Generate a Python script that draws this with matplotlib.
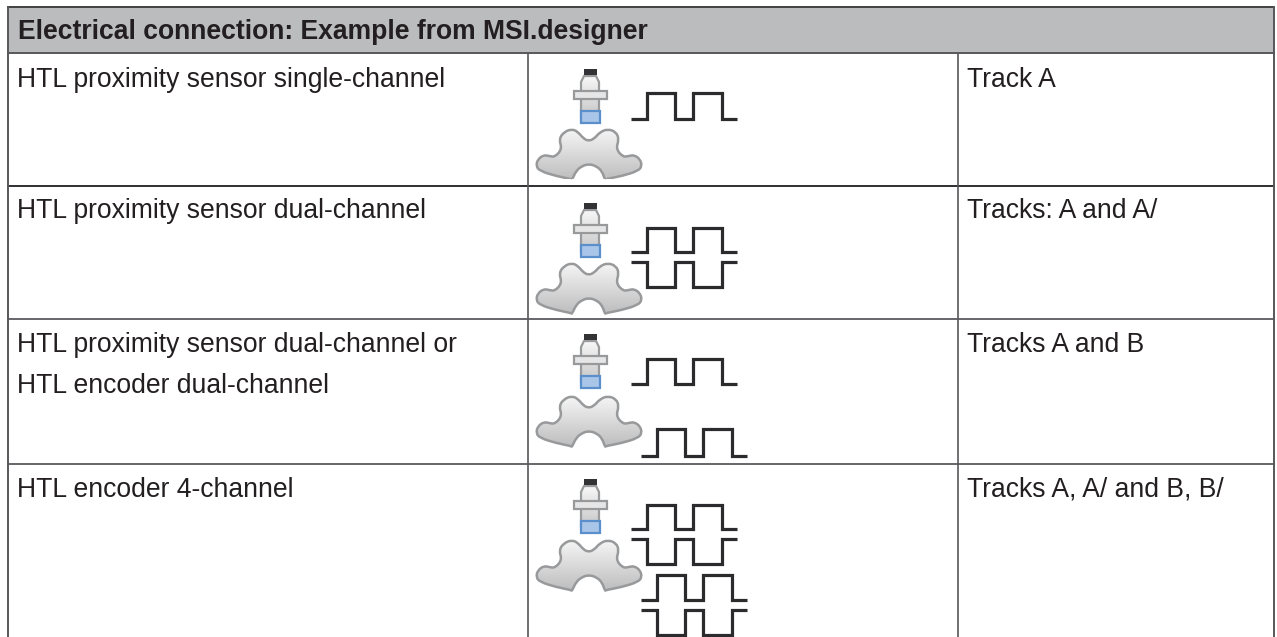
import numpy as np
import matplotlib
matplotlib.use('Agg')
import matplotlib.pyplot as plt
from matplotlib.path import Path
from matplotlib.patches import PathPatch, Rectangle

W, H = 1277, 637
TEXT = '#231f20'
LINE = '#58585a'

title = 'Electrical connection: Example from MSI.designer'
left_col = [['HTL proximity sensor single-channel'],
            ['HTL proximity sensor dual-channel'],
            ['HTL proximity sensor dual-channel or', 'HTL encoder dual-channel'],
            ['HTL encoder 4-channel']]
right_col = ['Track A', 'Tracks: A and A/', 'Tracks A and B', 'Tracks A, A/ and B, B/']
row_lines = [53, 186, 319, 464]
row_colors = ['#58585a', '#2f2f31', '#66666a', '#66666a']
baselines = [87, 218, 352, 497]
icon_tops = [69, 203, 334, 479]
gear_offsets = [60, 60, 62, 61]
# (x start, y low, y high) for each pulse train, y high < y low in pixels
waves = [[(631, 119, 93)],
         [(631, 252, 228), (631, 262, 287)],
         [(631, 384, 359), (641, 456, 429)],
         [(631, 529, 505), (631, 539, 564), (641, 600, 575), (641, 610, 635)]]


def gear_path(x0, y0):
    # outline: lobes on top, arch cut out of the bottom
    pts = [(36, 51), (35, 50), (20, 47), (4, 42), (0, 37), (2, 30), (8, 26), (13, 27), (19, 28),
           (26, 20), (23, 10), (28, 3), (36, 0), (42, 3), (47, 9), (52, 12), (58, 10), (64, 3),
           (72, 0), (80, 3), (83, 10), (80, 20), (87, 28), (93, 27), (98, 26), (104, 30),
           (106, 37), (102, 42), (86, 47), (70, 50), (69, 51), (66, 42), (60, 37), (53, 35),
           (46, 37), (40, 42)]
    pts = np.array(pts, dtype=float) + (x0, y0)
    verts = [(pts[0] + pts[-1]) / 2]
    codes = [Path.MOVETO]
    n = len(pts)
    for i in range(n):
        nxt = pts[(i + 1) % n]
        verts += [pts[i], (pts[i] + nxt) / 2]
        codes += [Path.CURVE3, Path.CURVE3]
    return Path(np.array(verts), codes)


def draw_gear(ax, x0, y0, clip_y=None):
    path = gear_path(x0, y0)
    grad = np.linspace(0.96, 0.74, 64).reshape(-1, 1)
    im = ax.imshow(grad, cmap='gray', vmin=0, vmax=1, extent=(x0, x0 + 107, y0 + 51, y0),
                   aspect='auto', zorder=2)
    patch = PathPatch(path, facecolor='none', edgecolor='#98999b', lw=1.8, zorder=3)
    ax.add_patch(patch)
    im.set_clip_path(patch)
    if clip_y is not None:
        patch.set_clip_path(Rectangle((x0 - 5, y0 - 5), 120, clip_y - y0 + 5, transform=ax.transData))


def draw_sensor(ax, top):
    # body with sloped shoulders under the cap
    outline = [(581, top + 48), (581, top + 13), (584, top + 7), (596, top + 7), (599, top + 13),
               (599, top + 48), (581, top + 48)]
    body = PathPatch(Path(outline, closed=True), facecolor='none', edgecolor='#9a9b9d', lw=1.6, zorder=3)
    ax.add_patch(body)
    grad = np.linspace(0.97, 0.78, 32).reshape(-1, 1)
    im = ax.imshow(grad, cmap='gray', vmin=0, vmax=1, extent=(580, 600, top + 48, top + 6),
                   aspect='auto', zorder=2)
    im.set_clip_path(body)
    ax.add_patch(Rectangle((583.5, top), 13, 6, facecolor='#333335', edgecolor='none', zorder=4))
    ax.add_patch(Rectangle((573.5, top + 22), 33, 8, facecolor='#e6e6e6', edgecolor='#98999b', lw=1.6, zorder=4))
    ax.add_patch(Rectangle((581, top + 42), 19, 12, facecolor='#a9c6e8', edgecolor='#5b8fcc', lw=1.6, zorder=4))


def draw_wave(ax, x0, y_low, y_high):
    xs = np.array([0, 16, 16, 44, 44, 62, 62, 91, 91, 106]) + x0
    ys = [y_low, y_low, y_high, y_high, y_low, y_low, y_high, y_high, y_low, y_low]
    ax.plot(xs, ys, color='#2b2b2d', lw=2.3, solid_joinstyle='miter', solid_capstyle='butt', zorder=3)


fig = plt.figure(figsize=(W / 100, H / 100), dpi=100)
ax = fig.add_axes([0, 0, 1, 1])

# header band
ax.add_patch(Rectangle((8, 7), 1266, 46, facecolor='#bbbcbe', edgecolor='none', zorder=1))

# table grid
ax.plot([8, 1274], [7, 7], color='#414042', lw=1.4, zorder=5)
for y, c in zip(row_lines, row_colors):
    ax.plot([8, 1274], [y, y], color=c, lw=1.4, zorder=5)
for x in [8, 1274]:
    ax.plot([x, x], [7, H], color=LINE, lw=1.4, zorder=5)
for x in [528, 958]:
    ax.plot([x, x], [53, H], color=LINE, lw=1.2, zorder=5)

font = ['Liberation Sans', 'DejaVu Sans']
size = 19.1
ax.text(18, 39, title, fontsize=size, fontweight='bold', color=TEXT, family=font, va='baseline')
for lines, y0, right in zip(left_col, baselines, right_col):
    for i, s in enumerate(lines):
        ax.text(17, y0 + i * 41, s, fontsize=size, color=TEXT, family=font, va='baseline')
    ax.text(967, y0, right, fontsize=size, color=TEXT, family=font, va='baseline')

# icons
for i, top in enumerate(icon_tops):
    draw_sensor(ax, top)
    draw_gear(ax, 536, top + gear_offsets[i], clip_y=179 if i == 0 else None)
    for x0, y_low, y_high in waves[i]:
        draw_wave(ax, x0, y_low, y_high)

ax.set_xlim(0, W)
ax.set_ylim(H, 0)
ax.axis('off')

fig.savefig('out.png', dpi=100, facecolor='white')
